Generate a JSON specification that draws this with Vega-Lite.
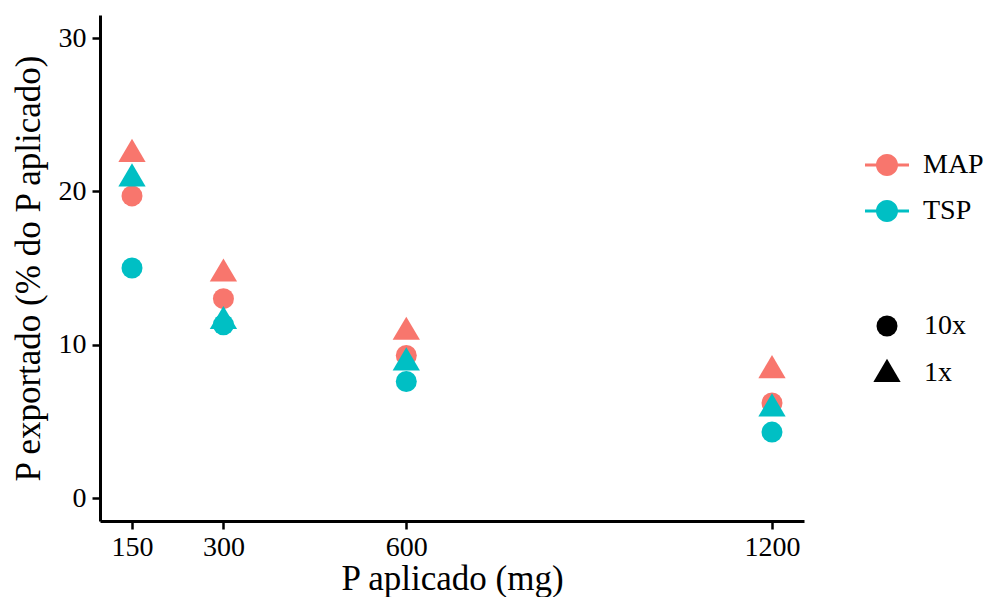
{
  "$schema": "https://vega.github.io/schema/vega-lite/v6.json",
  "width": 704,
  "height": 506,
  "autosize": {"type": "none"},
  "padding": {"left": 100, "top": 15, "right": 189, "bottom": 76},
  "background": "white",
  "config": {
    "view": {"stroke": null},
    "font": "Liberation Serif",
    "axis": {
      "domainColor": "black",
      "domainWidth": 3,
      "tickColor": "black",
      "tickWidth": 2.5,
      "tickSize": 8,
      "labelColor": "black",
      "labelFontSize": 28,
      "labelFont": "Liberation Serif",
      "titleFont": "Liberation Serif",
      "titleFontSize": 35,
      "titleFontWeight": "normal",
      "titleColor": "black",
      "grid": false
    },
    "legend": {
      "labelFont": "Liberation Serif",
      "labelFontSize": 28,
      "labelColor": "black"
    }
  },
  "data": {
    "values": [
      {"p": 150, "fonte": "MAP", "dose": "1x", "v": 22.5},
      {"p": 150, "fonte": "MAP", "dose": "10x", "v": 19.7},
      {"p": 300, "fonte": "MAP", "dose": "1x", "v": 14.7},
      {"p": 300, "fonte": "MAP", "dose": "10x", "v": 13.0},
      {"p": 600, "fonte": "MAP", "dose": "1x", "v": 10.9},
      {"p": 600, "fonte": "MAP", "dose": "10x", "v": 9.3},
      {"p": 1200, "fonte": "MAP", "dose": "1x", "v": 8.4},
      {"p": 1200, "fonte": "MAP", "dose": "10x", "v": 6.2},
      {"p": 150, "fonte": "TSP", "dose": "10x", "v": 15.0},
      {"p": 150, "fonte": "TSP", "dose": "1x", "v": 20.9},
      {"p": 300, "fonte": "TSP", "dose": "10x", "v": 11.3},
      {"p": 300, "fonte": "TSP", "dose": "1x", "v": 11.6},
      {"p": 600, "fonte": "TSP", "dose": "10x", "v": 7.6},
      {"p": 600, "fonte": "TSP", "dose": "1x", "v": 8.9},
      {"p": 1200, "fonte": "TSP", "dose": "10x", "v": 4.3},
      {"p": 1200, "fonte": "TSP", "dose": "1x", "v": 5.9}
    ]
  },
  "mark": {"type": "point", "filled": true, "opacity": 1, "size": 441},
  "encoding": {
    "x": {
      "field": "p",
      "type": "quantitative",
      "scale": {"domain": [97.5, 1252.5], "nice": false, "zero": false},
      "axis": {"values": [150, 300, 600, 1200], "format": "d", "title": "P aplicado (mg)", "labelPadding": 4, "titlePadding": 0}
    },
    "y": {
      "field": "v",
      "type": "quantitative",
      "scale": {"domain": [-1.5, 31.5], "nice": false, "zero": false},
      "axis": {"values": [0, 10, 20, 30], "format": "d", "title": "P exportado (% do P aplicado)", "labelPadding": 6, "titlePadding": 12}
    },
    "color": {
      "field": "fonte",
      "type": "nominal",
      "scale": {"domain": ["MAP", "TSP"], "range": ["#F8766D", "#00BFC4"]},
      "legend": {
        "title": null,
        "orient": "none",
        "legendX": 773,
        "legendY": 136,
        "symbolType": "M-2,-0.13H2V0.13H-2Z M1,0A1,1 0 1,1 -1,0A1,1 0 1,1 1,0Z",
        "symbolSize": 484,
        "symbolStrokeWidth": 0,
        "labelOffset": 22,
        "rowPadding": 18
      }
    },
    "shape": {
      "field": "dose",
      "type": "nominal",
      "scale": {"domain": ["10x", "1x"], "range": ["circle", "M-1.3,0.85L1.3,0.85L0,-1.35Z"]},
      "legend": {
        "title": null,
        "orient": "none",
        "legendX": 773,
        "legendY": 297,
        "symbolFillColor": "black",
        "symbolStrokeWidth": 0,
        "symbolSize": 441,
        "labelOffset": 23,
        "rowPadding": 18
      }
    }
  }
}
